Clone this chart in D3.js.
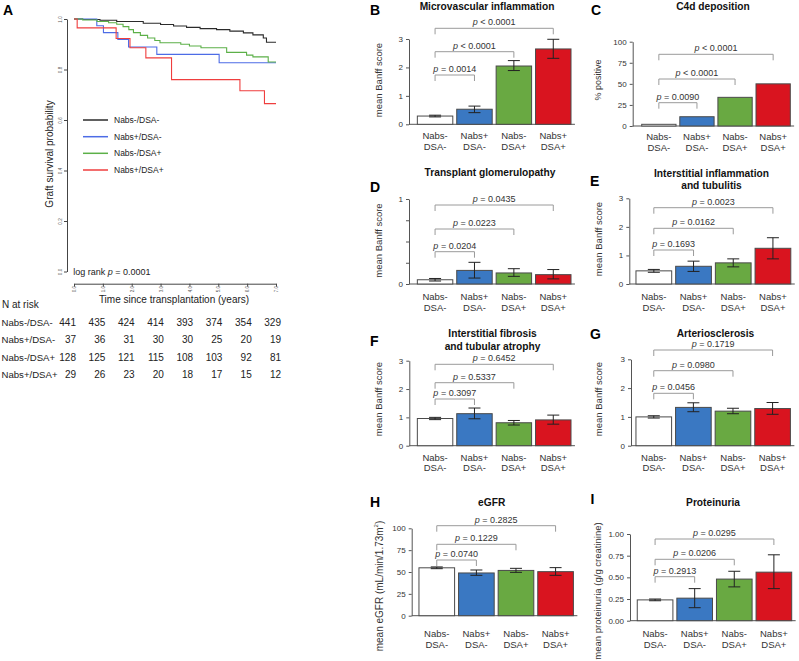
<!DOCTYPE html>
<html><head><meta charset="utf-8">
<script src="https://cdn.jsdelivr.net/npm/d3@7"></script>
<style>
body{margin:0;background:#fff}
svg{display:block}
text{font-family:"Liberation Sans",Arial,Helvetica,sans-serif;white-space:pre}
</style>
</head><body><svg id="chart" width="799" height="661"></svg>
<script>
// ---------- DATA ----------
const groups = ["Nabs-/DSA-","Nabs+/DSA-","Nabs-/DSA+","Nabs+/DSA+"];
const catLine1 = ["Nabs-","Nabs+","Nabs-","Nabs+"];
const catLine2 = ["DSA-","DSA-","DSA+","DSA+"];

// Kaplan-Meier step data (years, survival)
const kmTime0 = [0,0.3,0.9,1.48,2.4,3.0,3.45,3.9,4.37,4.94,5.4,5.87,6.2,6.56,6.67,7];
const kmSurv0 = [1,0.998,0.995,0.99,0.983,0.978,0.972,0.967,0.962,0.958,0.952,0.945,0.937,0.925,0.908,0.908];
const kmTime1 = [0,0.79,1.02,1.52,1.89,2.87,5.03,7];
const kmSurv1 = [1,0.973,0.946,0.919,0.889,0.86,0.827,0.827];
const kmTime2 = [0,0.3,0.8,1.2,1.48,1.7,1.9,2.06,2.3,2.55,2.8,2.98,3.7,4.0,4.4,5.29,5.98,6.2,6.73,7];
const kmSurv2 = [1,0.996,0.99,0.985,0.979,0.97,0.958,0.946,0.935,0.925,0.915,0.906,0.9,0.893,0.886,0.868,0.857,0.85,0.83,0.83];
const kmTime3 = [0,0.11,1.46,1.94,2.49,3.38,5.75,6.6,7];
const kmSurv3 = [1,0.965,0.923,0.886,0.846,0.76,0.716,0.665,0.665];
const kmYTicks = [0,0.2,0.4,0.6,0.8,1.0];
const kmXTicks = [0,1,2,3,4,5,6,7];
const riskYears = [0,1,2,3,4,5,6,7];
const risk0 = [441,435,424,414,393,374,354,329];
const risk1 = [37,36,31,30,30,25,20,19];
const risk2 = [128,125,121,115,108,103,92,81];
const risk3 = [29,26,23,20,18,17,15,12];

// B Microvascular inflammation
const mviMean = [0.29,0.53,2.05,2.65], mviLow = [0.26,0.41,1.89,2.32], mviHigh = [0.32,0.64,2.24,2.99];
const mviP = ["= 0.0014","< 0.0001","< 0.0001"];
// C C4d deposition (% positive)
const c4dPct = [2,11,34,50];
const c4dP = ["= 0.0090","< 0.0001","< 0.0001"];
// D Transplant glomerulopathy
const tgMean = [0.05,0.16,0.13,0.11], tgLow = [0.035,0.07,0.09,0.06], tgHigh = [0.065,0.255,0.18,0.17];
const tgP = ["= 0.0204","= 0.0223","= 0.0435"];
// E Interstitial inflammation and tubulitis
const itMean = [0.46,0.62,0.74,1.25], itLow = [0.41,0.44,0.6,0.88], itHigh = [0.51,0.8,0.88,1.62];
const itP = ["= 0.1693","= 0.0162","= 0.0023"];
// F Interstitial fibrosis and tubular atrophy
const ifMean = [0.96,1.13,0.81,0.91], ifLow = [0.92,0.95,0.73,0.76], ifHigh = [1.0,1.33,0.89,1.08];
const ifP = ["= 0.3097","= 0.5337","= 0.6452"];
// G Arteriosclerosis
const ahMean = [1.0,1.33,1.2,1.29], ahLow = [0.96,1.18,1.11,1.09], ahHigh = [1.04,1.49,1.3,1.5];
const ahP = ["= 0.0456","= 0.0980","= 0.1719"];
// H eGFR
const egfrMean = [54.8,48.9,51.8,50.4], egfrLow = [53.8,46.2,49.6,46.2], egfrHigh = [55.8,52.3,54.2,55.0];
const egfrP = ["= 0.0740","= 0.1229","= 0.2825"];
// I Proteinuria
const protMean = [0.24,0.26,0.48,0.56], protLow = [0.23,0.15,0.39,0.37], protHigh = [0.25,0.37,0.57,0.76];
const protP = ["= 0.2913","= 0.0206","= 0.0295"];

const banffTicks = [0,1,2,3];
const pctTicks = [0,25,50,75,100];
const tgTicks = [0,0.25,0.5,0.75,1];
const egfrTicks = [0,25,50,75,100];
const protTicks = [0,0.25,0.5,0.75,1];

// ---------- STYLE ----------
const kmColors = ["#2b2b2b","#4d6ce6","#5cb048","#ef3e3e"];
const barColors = ["#ffffff","#3a78c2","#69a942","#d9141f"];
const svg = d3.select("#chart");

// ---------- PANEL A ----------
svg.append("text").text("A").attr("x",3).attr("y",15).attr("font-size",14).attr("font-weight","bold");
const kmX = d3.scaleLinear().domain([0,7]).range([74,276]);
const kmY = d3.scaleLinear().domain([0,1]).range([271.5,19]);

const gy = svg.append("g").attr("transform","translate(67,0)")
  .call(d3.axisLeft(kmY).tickValues(kmYTicks).tickSize(3).tickSizeOuter(0).tickFormat(d3.format(".1f")));
gy.attr("font-family",null);
gy.select(".domain").attr("stroke","#444");
gy.selectAll(".tick line").attr("stroke","#444");
gy.selectAll(".tick text").attr("x",null).attr("dy",null).attr("font-size",4.5).attr("fill","#555")
  .attr("text-anchor","middle").attr("transform","translate(-5,0) rotate(-90)");

const gx = svg.append("g").attr("transform","translate(0,283.7)")
  .call(d3.axisBottom(kmX).tickValues(kmXTicks).tickSize(3).tickSizeOuter(0));
gx.attr("font-family",null);
gx.select(".domain").attr("stroke","#444");
gx.selectAll(".tick line").attr("stroke","#444");
gx.selectAll(".tick text").attr("y",null).attr("dy","0.35em").attr("font-size",4.5).attr("fill","#555")
  .attr("text-anchor","middle").attr("transform","translate(0,5.5) rotate(-90)");

const kmSets = [[kmTime0,kmSurv0],[kmTime1,kmSurv1],[kmTime2,kmSurv2],[kmTime3,kmSurv3]];
const kmLine = d3.line().x(d=>kmX(d[0])).y(d=>kmY(d[1])).curve(d3.curveStepAfter);
kmSets.forEach((s,i)=>{
  const pts = s[0].map((t,j)=>[t,s[1][j]]);
  svg.append("path").attr("d",kmLine(pts)).attr("fill","none").attr("stroke",kmColors[i]).attr("stroke-width",1.1);
});

// legend
const legY = [120,136.7,153.3,170];
groups.forEach((g,i)=>{
  svg.append("line").attr("x1",83).attr("x2",108).attr("y1",legY[i]).attr("y2",legY[i]).attr("stroke",kmColors[i]).attr("stroke-width",1.5);
  svg.append("text").attr("x",114).attr("y",legY[i]).attr("dy","0.35em").attr("font-size",8.5).attr("fill","#222").text(g);
});

svg.append("text").attr("transform","translate(49,154) rotate(-90)").attr("text-anchor","middle")
  .attr("dominant-baseline","central").attr("font-size",10).attr("fill","#222").text("Graft survival probability");

const lr = svg.append("text").attr("x",73.3).attr("y",275.3).attr("font-size",9).attr("fill","#222");
lr.append("tspan").text("log rank ");
lr.append("tspan").attr("font-style","italic").text("p");
lr.append("tspan").text(" = 0.0001");

svg.append("text").attr("x",174).attr("y",302.5).attr("text-anchor","middle").attr("font-size",10).attr("fill","#222")
  .text("Time since transplantation (years)");
svg.append("text").attr("x",2).attr("y",308).attr("font-size",10).attr("fill","#222").text("N at risk");

const riskX = d3.scaleLinear().domain([0,7]).range([76,281]);
const riskRows = [risk0,risk1,risk2,risk3];
const rowY = [325.5,343,360.5,378];
riskRows.forEach((row,i)=>{
  svg.append("text").attr("x",1.5).attr("y",rowY[i]).attr("font-size",9.6).attr("fill","#222").text(groups[i]);
  row.forEach((v,j)=>{
    svg.append("text").attr("x",riskX(riskYears[j])).attr("y",rowY[i]).attr("text-anchor","end")
      .attr("font-size",10).attr("fill","#222").text(v);
  });
});

// ---------- BAR PANELS ----------
function barPanel(c){
  const g = svg.append("g");
  const x = d3.scaleBand().domain(d3.range(4)).range([c.r0, c.r0 + c.step*4.1]).paddingInner(0.1).paddingOuter(0.1);
  const y = d3.scaleLinear().domain([0,c.max]).range([c.baseY,c.topY]);
  const ya = g.append("g").attr("transform",`translate(${c.axisX},0)`)
    .call(d3.axisLeft(y).tickValues(c.ticks).tickSize(3).tickSizeOuter(0).tickPadding(3).tickFormat(c.fmt));
  ya.attr("font-family",null);
  ya.select(".domain").attr("stroke","#555");
  ya.selectAll(".tick line").attr("stroke","#555");
  ya.selectAll(".tick text").attr("font-size",8).attr("fill","#333");
  g.append("line").attr("x1",c.axisX).attr("x2",x.range()[1]).attr("y1",c.baseY).attr("y2",c.baseY)
    .attr("stroke","#555").attr("stroke-width",1);
  c.mean.forEach((v,i)=>{
    g.append("rect").attr("x",x(i)).attr("y",y(v)).attr("width",x.bandwidth()).attr("height",c.baseY-y(v))
      .attr("fill",barColors[i]).attr("stroke","#4a4a4a").attr("stroke-width",1);
  });
  if(c.low){
    c.mean.forEach((v,i)=>{
      const cx = x(i)+x.bandwidth()/2;
      g.append("line").attr("x1",cx).attr("x2",cx).attr("y1",y(c.low[i])).attr("y2",y(c.high[i])).attr("stroke","#222");
      [c.low[i],c.high[i]].forEach(e=>{
        g.append("line").attr("x1",cx-6).attr("x2",cx+6).attr("y1",y(e)).attr("y2",y(e)).attr("stroke","#222");
      });
    });
  }
  c.p.forEach((p,k)=>{
    const x1 = x(0)+x.bandwidth()/2, x2 = x(k+1)+x.bandwidth()/2, by = c.bry[k];
    g.append("path").attr("d",`M${x1},${by+6}V${by}H${x2}V${by+6}`).attr("fill","none").attr("stroke","#9a9a9a").attr("stroke-width",1);
    const t = g.append("text").attr("x",(x1+x2)/2).attr("y",by-3).attr("text-anchor","middle").attr("font-size",9).attr("fill","#333");
    t.append("tspan").attr("font-style","italic").text("p");
    t.append("tspan").text(" "+p);
  });
  catLine1.forEach((l,i)=>{
    const cx = x(i)+x.bandwidth()/2;
    g.append("text").attr("x",cx).attr("y",c.xl[0]).attr("text-anchor","middle").attr("font-size",9.5).attr("fill","#333").text(l);
    g.append("text").attr("x",cx).attr("y",c.xl[1]).attr("text-anchor","middle").attr("font-size",9.5).attr("fill","#333").text(catLine2[i]);
  });
  c.title.forEach((tl,k)=>{
    g.append("text").attr("x",c.tx).attr("y",c.ty[k]).attr("text-anchor","middle").attr("font-size",10.2)
      .attr("font-weight","bold").attr("fill","#111").text(tl);
  });
  g.append("text").attr("x",c.lx).attr("y",c.ly).attr("font-size",14).attr("font-weight","bold").attr("fill","#000").text(c.letter);
  const yt = g.append("text").attr("transform",`translate(${c.ytx},${c.yty}) rotate(-90)`).attr("text-anchor","middle")
    .attr("dominant-baseline","central").attr("font-size",c.ytFont||9.5).attr("fill","#333");
  if(c.ytitleSup){
    yt.append("tspan").text(c.ytitle);
    yt.append("tspan").attr("font-size",6).attr("baseline-shift","super").text(c.ytitleSup);
    yt.append("tspan").text(c.ytitleEnd);
  } else yt.text(c.ytitle);
}

const fmtInt = d3.format("d");
barPanel({letter:"B",lx:370,ly:15,title:["Microvascular inflammation"],tx:487,ty:[10],
  axisX:409,baseY:124.3,topY:39,max:3,ticks:banffTicks,fmt:fmtInt,r0:413.4,step:39.4,
  mean:mviMean,low:mviLow,high:mviHigh,p:mviP,bry:[75,51.7,28.3],xl:[139,150],
  ytitle:"mean Banff score",ytx:378,yty:80});
barPanel({letter:"C",lx:591,ly:15,title:["C4d deposition"],tx:713,ty:[10],
  axisX:632.7,baseY:126,topY:41.7,max:100,ticks:pctTicks,fmt:fmtInt,r0:637.9,step:38.1,
  mean:c4dPct,low:null,high:null,p:c4dP,bry:[102.7,79,54.3],xl:[139.5,150.5],
  ytitle:"% positive",ytx:597.5,yty:80,ytFont:9});
barPanel({letter:"D",lx:370,ly:192,title:["Transplant glomerulopathy"],tx:490,ty:[175.5],
  axisX:409,baseY:284,topY:199,max:1,ticks:tgTicks,fmt:d=>(d===0||d===1)?d:"",r0:413.4,step:39.4,
  mean:tgMean,low:tgLow,high:tgHigh,p:tgP,bry:[251.7,229,205],xl:[299.5,311],
  ytitle:"mean Banff score",ytx:378,yty:240.5});
barPanel({letter:"E",lx:590,ly:185.7,title:["Interstitial inflammation","and tubulitis"],tx:711.5,ty:[176.5,189],
  axisX:629.3,baseY:284,topY:198.3,max:3,ticks:banffTicks,fmt:fmtInt,r0:632,step:39.7,
  mean:itMean,low:itLow,high:itHigh,p:itP,bry:[250,228.3,207.7],xl:[299.5,311],
  ytitle:"mean Banff score",ytx:598.5,yty:239});
barPanel({letter:"F",lx:370,ly:345.7,title:["Interstitial fibrosis","and tubular atrophy"],tx:492.5,ty:[337,349.5],
  axisX:409.3,baseY:445.7,topY:360.7,max:3,ticks:banffTicks,fmt:fmtInt,r0:413.4,step:39.4,
  mean:ifMean,low:ifLow,high:ifHigh,p:ifP,bry:[399,382.7,364.3],xl:[460.5,471],
  ytitle:"mean Banff score",ytx:378,yty:399});
barPanel({letter:"G",lx:590,ly:339,title:["Arteriosclerosis"],tx:715.5,ty:[337],
  axisX:631,baseY:445.7,topY:359.3,max:3,ticks:banffTicks,fmt:fmtInt,r0:632,step:39.6,
  mean:ahMean,low:ahLow,high:ahHigh,p:ahP,bry:[393.3,370.7,350],xl:[460.5,471],
  ytitle:"mean Banff score",ytx:598.5,yty:399});
barPanel({letter:"H",lx:370,ly:507,title:["eGFR"],tx:491.7,ty:[505.5],
  axisX:411.7,baseY:615.7,topY:528.3,max:100,ticks:egfrTicks,fmt:fmtInt,r0:415,step:39.6,
  mean:egfrMean,low:egfrLow,high:egfrHigh,p:egfrP,bry:[560,544.3,525.7],xl:[636.7,648.3],
  ytitle:"mean eGFR (mL/min/1.73m",ytitleSup:"2",ytitleEnd:")",ytx:379,yty:586,ytFont:10});
barPanel({letter:"I",lx:590.5,ly:503.5,title:["Proteinuria"],tx:713,ty:[505.5],
  axisX:630,baseY:620.7,topY:534,max:1,ticks:protTicks,fmt:d3.format(".2f"),r0:633.3,step:39.6,
  mean:protMean,low:protLow,high:protHigh,p:protP,bry:[576.7,559.3,539],xl:[637,648],
  ytitle:"mean proteinuria (g/g creatinine)",ytx:597.5,yty:591});
</script></body></html>
